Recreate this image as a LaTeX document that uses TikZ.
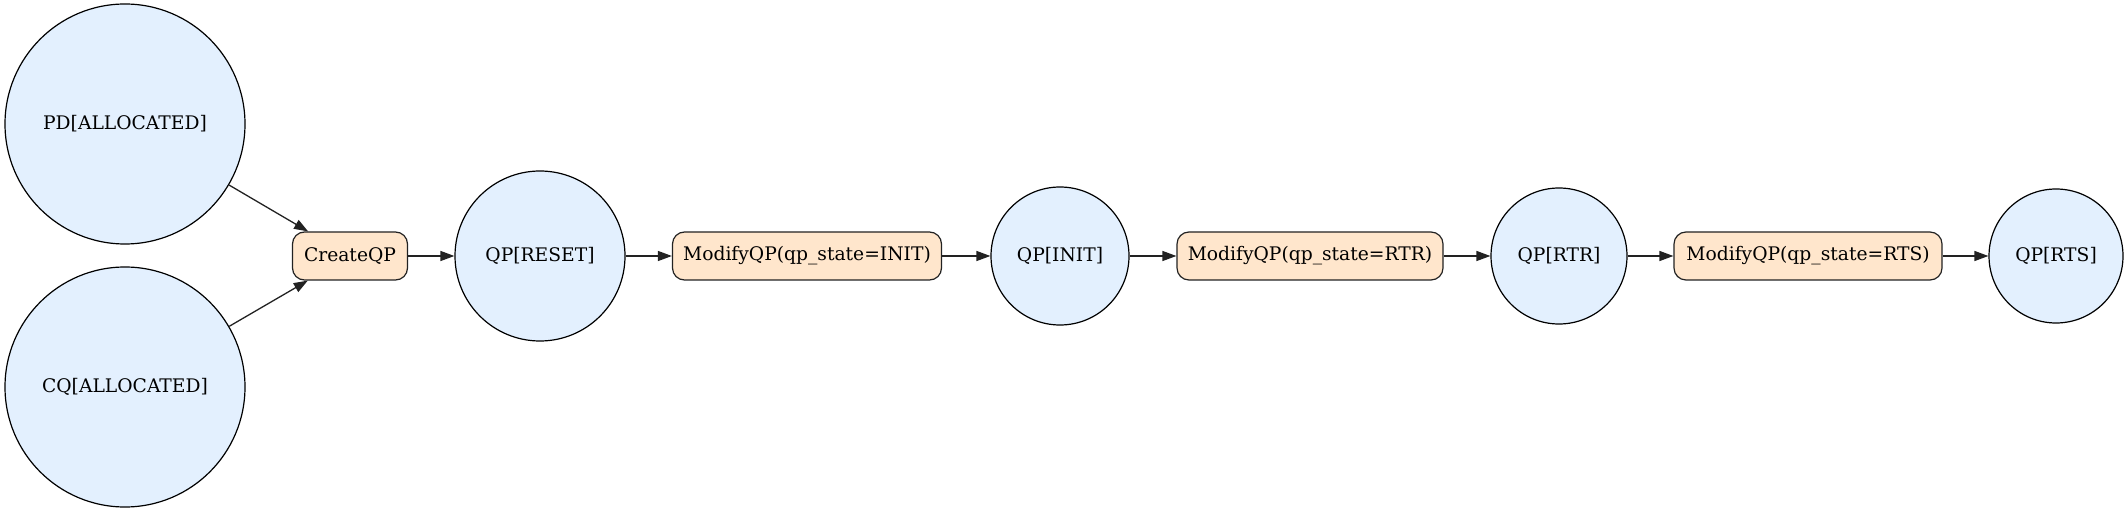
\documentclass[tikz,border=0pt]{standalone}
\usepackage{fontspec}
\setmainfont{DejaVu Serif}
\usetikzlibrary{arrows.meta}
\definecolor{circfill}{HTML}{E3F0FE}
\definecolor{boxfill}{HTML}{FFE6CC}
\definecolor{edgecol}{HTML}{222222}
\begin{document}
\begin{tikzpicture}[x=1pt,y=1pt,
  state/.style={circle,draw=black,fill=circfill,line width=1.2pt,inner sep=0pt,font=\fontsize{18.7}{22}\selectfont},
  action/.style={rectangle,rounded corners=12pt,draw=edgecol,fill=boxfill,line width=1.2pt,inner sep=0pt,minimum height=48pt,font=\fontsize{18.7}{22}\selectfont},
  flow/.style={draw=edgecol,line width=1.3pt,-{Triangle[length=14pt,width=10pt]}}]
\useasboundingbox (0,0) rectangle (2128,512);
\node[state,minimum size=240pt] (pd) at (125,388) {PD[ALLOCATED]};
\node[state,minimum size=240pt] (cq) at (125,125) {CQ[ALLOCATED]};
\node[action,minimum width=115pt] (create) at (350,256) {CreateQP};
\node[state,minimum size=170pt] (reset) at (540,256) {QP[RESET]};
\node[action,minimum width=269pt] (minit) at (807,256) {ModifyQP(qp\_state=INIT)};
\node[state,minimum size=138pt] (init) at (1060,256) {QP[INIT]};
\node[action,minimum width=266pt] (mrtr) at (1310,256) {ModifyQP(qp\_state=RTR)};
\node[state,minimum size=136pt] (rtr) at (1559,256) {QP[RTR]};
\node[action,minimum width=268pt] (mrts) at (1808,256) {ModifyQP(qp\_state=RTS)};
\node[state,minimum size=134pt] (rts) at (2056,256) {QP[RTS]};
\draw[flow] (pd) -- (create);
\draw[flow] (cq) -- (create);
\draw[flow] (create) -- (reset);
\draw[flow] (reset) -- (minit);
\draw[flow] (minit) -- (init);
\draw[flow] (init) -- (mrtr);
\draw[flow] (mrtr) -- (rtr);
\draw[flow] (rtr) -- (mrts);
\draw[flow] (mrts) -- (rts);
\end{tikzpicture}
\end{document}
